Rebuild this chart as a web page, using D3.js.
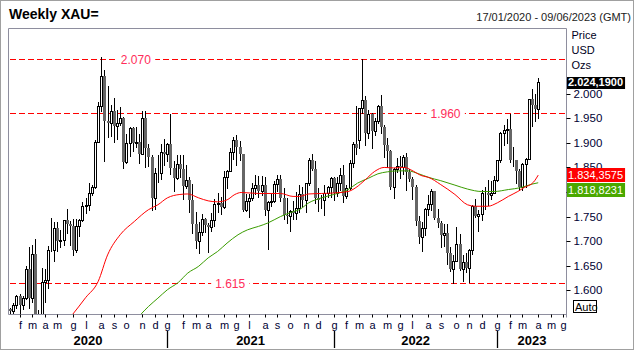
<!DOCTYPE html>
<html>
<head>
<meta charset="utf-8">
<script src="https://cdn.jsdelivr.net/npm/d3@7"></script>
<style>
body { margin: 0; background: #fff; }
svg { display: block; font-family: Arial, "Liberation Sans", sans-serif; }
</style>
</head>
<body>
<svg id="svg"></svg>
<script>
var W = 635, H = 352;
var plot = {left: 8.5, top: 28.5, right: 566.5, bottom: 314.5};

// weekly bars, first one on 17/01/2020, axis runs to 09/06/2023
var startDate = new Date(2020, 0, 17);
var nSlots = 178;
var monthLetters = ["g","f","m","a","m","g","l","a","s","o","n","d"];

var opens = [
 1562,1557,1571,1589,1570,1584,1643,1585,1674,1530,1498,1617,1620,1683,1683,1727,1700,1702,1743,1735,
 1730,1683,1730,1743,1771,1774,1798,1810,1902,1975,2035,1944,1940,1964,1934,1940,1950,1861,1899,1930,
 1899,1902,1878,1951,1889,1871,1788,1839,1839,1881,
 1877,1898,1849,1828,1856,1847,1813,1824,1784,1734,1700,1719,1745,1733,1729,1744,1776,1777,1769,1831,
 1843,1881,1905,1891,1877,1764,1781,1787,1808,1815,1802,1814,1763,1779,1781,1817,1827,1788,1754,1751,
 1761,1757,1768,1796,1783,1818,1865,1846,1788,1783,1783,1798,1811,
 1829,1797,1818,1835,1791,1808,1860,1898,1905,1970,1988,1921,1958,1925,1945,1974,1932,1896,1883,1811,
 1846,1853,1851,1871,1840,1826,1811,1742,1708,1727,1766,1775,1802,1747,1737,1712,1716,1675,1644,1660,
 1695,1644,1657,1645,1681,1771,1751,1755,1797,1797,1793,1798,
 1824,1865,1920,1926,1928,1865,1865,1842,1811,1856,1868,1989,1978,1969
];
var highs = [
 1563,1574,1591,1592,1588,1649,1689,1692,1704,1560,1645,1643,1690,1747,1739,1738,1722,1743,1765,1740,
 1745,1745,1745,1779,1788,1818,1814,1905,1983,2075,2049,2015,1977,1992,1967,1973,1953,1918,1933,1933,
 1933,1917,1965,1965,1898,1876,1848,1875,1897,1907,
 1900,1959,1864,1875,1875,1875,1855,1830,1816,1760,1739,1755,1747,1737,1758,1785,1797,1790,1843,1845,
 1890,1912,1916,1903,1877,1795,1795,1818,1834,1833,1832,1830,1782,1795,1823,1834,1834,1809,1787,1764,
 1782,1800,1814,1810,1818,1869,1877,1863,1809,1793,1814,1813,1831,
 1831,1830,1848,1854,1815,1865,1902,1974,1971,2070,1996,1966,1960,1950,1978,1998,1936,1910,1885,1849,
 1870,1874,1875,1879,1847,1830,1814,1752,1739,1767,1794,1807,1802,1765,1740,1735,1735,1688,1671,1729,
 1715,1671,1675,1684,1774,1786,1763,1804,1810,1824,1823,1833,
 1865,1922,1937,1949,1959,1891,1865,1846,1858,1870,1990,2010,2000,2032
];
var lows = [
 1536,1546,1563,1547,1562,1582,1563,1576,1504,1451,1483,1576,1605,1680,1660,1680,1689,1692,1717,1693,
 1671,1677,1711,1741,1757,1763,1794,1808,1902,1965,1863,1911,1913,1902,1907,1936,1848,1860,1873,1883,
 1891,1860,1877,1850,1853,1764,1765,1820,1826,1854,
 1863,1836,1803,1826,1831,1785,1808,1760,1717,1687,1676,1713,1719,1677,1721,1730,1760,1756,1768,1808,
 1843,1868,1855,1866,1761,1761,1750,1783,1795,1789,1794,1753,1684,1772,1779,1803,1782,1745,1737,1721,
 1746,1746,1760,1771,1759,1815,1845,1778,1762,1768,1753,1789,1789,
 1783,1791,1805,1780,1788,1806,1850,1878,1890,1960,1895,1910,1890,1915,1940,1920,1872,1850,1807,1787,
 1840,1828,1836,1805,1822,1785,1732,1697,1680,1712,1754,1764,1745,1728,1688,1691,1654,1639,1615,1659,
 1641,1618,1638,1616,1674,1749,1721,1744,1765,1773,1785,1797,
 1822,1861,1896,1900,1861,1853,1819,1804,1805,1810,1867,1934,1944,1950
];
var closes = [
 1557,1571,1589,1570,1584,1643,1585,1674,1530,1498,1617,1620,1683,1683,1727,1700,1702,1743,1735,1730,
 1683,1730,1743,1771,1774,1798,1810,1902,1975,2035,1944,1940,1964,1934,1940,1950,1861,1899,1930,1899,
 1902,1878,1951,1889,1871,1788,1839,1839,1881,1877,
 1898,1849,1828,1856,1847,1813,1824,1784,1734,1700,1719,1745,1733,1729,1744,1776,1777,1769,1831,1843,
 1881,1905,1891,1877,1764,1781,1787,1808,1815,1802,1814,1763,1779,1781,1817,1827,1788,1754,1751,1761,
 1757,1768,1796,1783,1818,1865,1846,1788,1783,1783,1798,1811,1829,
 1797,1818,1835,1791,1808,1860,1898,1889,1970,1988,1921,1958,1925,1945,1974,1932,1896,1883,1811,1846,
 1853,1851,1871,1840,1826,1811,1742,1708,1727,1766,1775,1802,1747,1737,1712,1716,1675,1644,1660,1695,
 1644,1657,1645,1681,1771,1751,1755,1797,1797,1793,1798,1824,
 1865,1920,1926,1928,1865,1865,1842,1811,1856,1868,1989,1978,1969,2024.19
];

// moving averages: [week index, value]
var maRed = [[17,1530],[19.5,1548],[24,1585],[28,1618],[31,1672],[35,1713],[39.5,1740],[44,1764],
 [47,1774],[50,1788],[54,1795],[56.5,1796],[60,1788],[63,1782],[66,1780],[69,1784],[71.5,1795],
 [73.5,1799],[79,1797],[86,1797],[90,1791],[92,1791],[95,1796],[99,1797],[103,1798],[107.5,1801],
 [110,1809],[113,1825],[116,1842],[119,1850],[122,1849],[125.5,1850],[127.5,1845],[131,1833],
 [133,1830],[137,1815],[141.5,1795],[145.5,1774],[148,1771],[152,1771],[155,1778],[158.5,1791],
 [161.5,1801],[163.5,1809],[166.5,1820],[168,1834.36]];
var maGreen = [[40,1540],[41.7,1552],[44,1567],[47,1584],[50,1601],[53.5,1616],[56.5,1635],[60,1649],
 [63,1666],[66,1679],[69,1696],[72.5,1713],[75.5,1723],[79,1730],[82,1737],[86,1750],[90,1760],
 [92,1764],[95,1778],[99,1788],[103,1795],[107.5,1805],[110.5,1818],[114,1828],[117,1837],[120,1841],
 [123.5,1843],[126.5,1843],[130,1837],[133,1830],[137,1823],[141.5,1814],[145.5,1806],[150,1801],
 [154,1801],[158.5,1805],[162.5,1809],[166,1816],[168,1818.82]];

var levels = [2070, 1960, 1615];
var levelLabelAt = [40, 138.5, 70];
var priceTicks = [1600,1650,1700,1750,1800,1850,1900,1950,2000];
var lastPrice = 2024.19, lastRed = 1834.3575, lastGreen = 1818.8231;

var itLocale = d3.formatLocale({decimal: ",", thousands: ".", grouping: [3], currency: ["", ""]});
var fmt0 = itLocale.format(",.0f");
var fmt4 = itLocale.format(",.4f");

var dates = d3.range(nSlots).map(function(i){ return d3.timeDay.offset(startDate, 7 * i); });

var svg = d3.select("#svg").attr("width", W).attr("height", H);

var x = d3.scaleLinear().domain([0, nSlots - 1]).range([10.15, 566.5]);
var y = d3.scaleLinear().domain([1600, 2000]).range([290.3, 93.7]);
function px(v){ return Math.round(v) + 0.5; }

// outer frame + title
svg.append("rect").attr("x",0.5).attr("y",0.5).attr("width",633).attr("height",349)
  .attr("fill","#fff").attr("stroke","#a0a0a0");
svg.append("text").attr("x",9).attr("y",18.5).attr("font-size",14).attr("font-weight","bold")
  .text("Weekly XAU=");
svg.append("text").attr("x",631).attr("y",21).attr("font-size",11).attr("text-anchor","end")
  .attr("fill","#222").text("17/01/2020 - 09/06/2023 (GMT)");

svg.append("defs").append("clipPath").attr("id","clip").append("rect")
  .attr("x",plot.left+0.5).attr("y",plot.top+0.5)
  .attr("width",plot.right-plot.left-1).attr("height",plot.bottom-plot.top-1);

// plot frame
var frameCol = "#8e8e9e";
svg.append("line").attr("x1",plot.left).attr("x2",plot.left).attr("y1",plot.top).attr("y2",plot.bottom).attr("stroke",frameCol);
svg.append("line").attr("x1",plot.left).attr("x2",plot.right).attr("y1",plot.top).attr("y2",plot.top).attr("stroke",frameCol);
svg.append("line").attr("x1",plot.left).attr("x2",plot.right).attr("y1",plot.bottom).attr("y2",plot.bottom).attr("stroke",frameCol);
svg.append("line").attr("x1",plot.right).attr("x2",plot.right).attr("y1",plot.top).attr("y2",plot.bottom+3).attr("stroke",frameCol);

// horizontal levels: dashes drawn as 6x1 red rects, label on a white gap
var lv = svg.append("g");
var dashX = d3.range(plot.left + 1.5, plot.right - 1, 9);
levels.forEach(function(v, k){
  var yy = Math.round(y(v));
  lv.append("g").selectAll("rect").data(dashX).join("rect")
    .attr("x",function(d){ return d; }).attr("y",yy)
    .attr("width",function(d){ return Math.min(6, plot.right - d); }).attr("height",1)
    .attr("fill","#ff0000");
  var t = lv.append("text").attr("x",x(levelLabelAt[k])).attr("y",yy+5)
    .attr("font-size",12).attr("text-anchor","middle").attr("fill","#ff2d5a").text(fmt0(v));
  var bb = t.node().getBBox();
  lv.insert("rect","text:last-child").attr("x",bb.x-4).attr("y",yy-2).attr("width",bb.width+8).attr("height",5).attr("fill","#fff");
});

// candles
var cg = svg.append("g").attr("clip-path","url(#clip)");
var bars = d3.range(closes.length);
cg.selectAll("line.wick").data(bars).join("line").attr("class","wick")
  .attr("x1",function(i){ return px(x(i)); }).attr("x2",function(i){ return px(x(i)); })
  .attr("y1",function(i){ return Math.round(y(highs[i])); })
  .attr("y2",function(i){ return Math.round(y(lows[i])) + 1; })
  .attr("stroke","#000");
cg.selectAll("rect.down").data(bars.filter(function(i){ return closes[i] < opens[i]; })).join("rect")
  .attr("class","down")
  .attr("x",function(i){ return Math.round(x(i)) - 1; })
  .attr("y",function(i){ return Math.round(y(opens[i])); })
  .attr("width",3)
  .attr("height",function(i){ return Math.max(1, Math.round(y(closes[i])) - Math.round(y(opens[i]))); })
  .attr("fill","#666");
cg.selectAll("rect.up").data(bars.filter(function(i){ return closes[i] >= opens[i]; })).join("rect")
  .attr("class","up")
  .attr("x",function(i){ return Math.round(x(i)) - 0.5; })
  .attr("y",function(i){ return Math.round(y(closes[i])) + 0.5; })
  .attr("width",2)
  .attr("height",function(i){ return Math.max(0, Math.round(y(opens[i])) - Math.round(y(closes[i]))); })
  .attr("fill","#fff").attr("stroke","#000");

// moving averages
var maLine = d3.line().x(function(d){ return x(d[0]); }).y(function(d){ return y(d[1]); }).curve(d3.curveMonotoneX);
cg.append("path").attr("d",maLine(maGreen)).attr("fill","none").attr("stroke","#3a9c00").attr("stroke-width",1);
cg.append("path").attr("d",maLine(maRed)).attr("fill","none").attr("stroke","#ff0000").attr("stroke-width",1);

// bottom axis (month letters)
var monthIdx = d3.range(1, nSlots).filter(function(i){ return dates[i].getMonth() !== dates[i-1].getMonth(); });
var xAxis = svg.append("g").attr("transform","translate(0," + plot.bottom + ")")
  .call(d3.axisBottom(x).tickValues(monthIdx).tickSize(3).tickPadding(4)
    .tickFormat(function(i){ return monthLetters[dates[i].getMonth()]; }));
xAxis.select(".domain").remove();
xAxis.selectAll(".tick").attr("transform",function(i){ return "translate(" + px(x(i)) + ",0)"; });
xAxis.selectAll(".tick line").attr("stroke","#000");
xAxis.selectAll(".tick text").attr("font-size",11).attr("font-family",null).attr("fill","#000033");

// year separators and labels
var yearIdx = monthIdx.filter(function(i){ return dates[i].getMonth() === 0; });
yearIdx.forEach(function(i){
  svg.append("line").attr("x1",px(x(i))).attr("x2",px(x(i))).attr("y1",331).attr("y2",348)
    .attr("stroke","#000").attr("stroke-width",1.3);
});
var bounds = [plot.left].concat(yearIdx.map(function(i){ return x(i); })).concat([plot.right]);
d3.range(bounds.length - 1).forEach(function(k){
  svg.append("text").attr("x",(bounds[k] + bounds[k+1]) / 2).attr("y",345)
    .attr("text-anchor","middle").attr("font-size",13).attr("font-weight","bold")
    .text(dates[0].getFullYear() + k);
});

// right axis
var yAxis = svg.append("g").attr("transform","translate(" + plot.right + ",0)")
  .call(d3.axisRight(y).tickValues(priceTicks).tickSize(4).tickPadding(3).tickFormat(fmt0));
yAxis.select(".domain").remove();
yAxis.selectAll(".tick").attr("transform",function(v){ return "translate(0," + px(y(v)) + ")"; });
yAxis.selectAll(".tick line").attr("stroke","#000");
yAxis.selectAll(".tick text").attr("font-size",11.5).attr("font-family",null).attr("fill","#000033");

["Price","USD","Ozs"].forEach(function(s, k){
  svg.append("text").attr("x",571.5).attr("y",38.5 + 15 * k).attr("font-size",11).attr("fill","#000022").text(s);
});

// value flags
function flag(v, top, h, bg, bold, size){
  var g = svg.append("g");
  var r = g.append("rect").attr("x",567).attr("y",top).attr("height",h).attr("fill",bg);
  var t = g.append("text").attr("x",568).attr("y",top + h - 3).attr("font-size",size)
    .attr("font-weight",bold ? "bold" : null).attr("fill","#fff").text(fmt4(v));
  r.attr("width",t.node().getComputedTextLength() + 3);
}
flag(lastPrice, Math.round(y(lastPrice)) - 5, 12, "#000", true, 11);
flag(lastRed, Math.round(y(lastRed)) - 7, 14, "#ff0000", false, 11);
flag(lastGreen, Math.round(y(lastRed)) + 8, 14, "#4aa800", false, 11);

// Auto button
svg.append("rect").attr("x",573.5).attr("y",300.5).attr("width",23).attr("height",12)
  .attr("fill","#fff").attr("stroke","#000");
svg.append("text").attr("x",575).attr("y",310.5).attr("font-size",11).text("Auto");
</script>
</body>
</html>
